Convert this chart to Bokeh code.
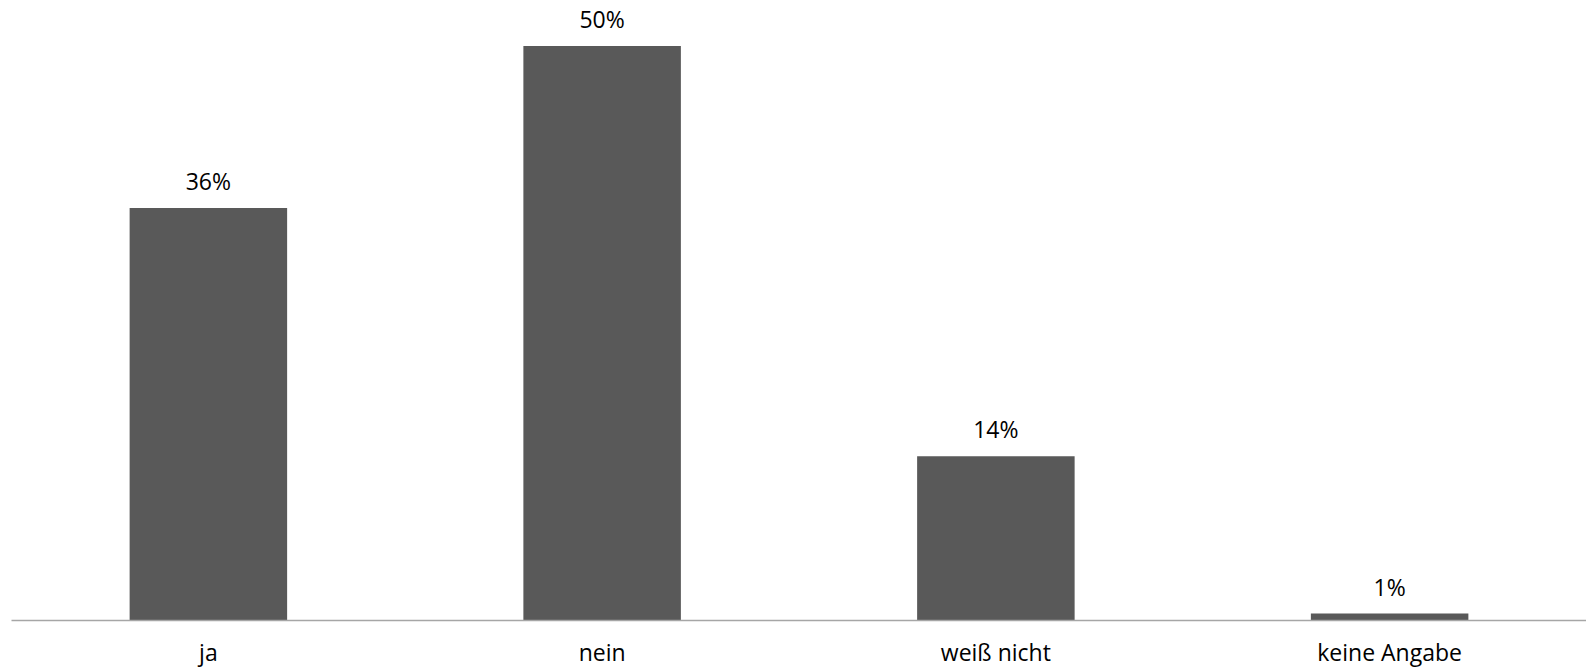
from bokeh.plotting import figure
from bokeh.models import ColumnDataSource, Range1d
from bokeh.core.properties import value
from bokeh.embed import file_html
from bokeh.resources import INLINE

categories = ["ja", "nein", "weiß nicht", "keine Angabe"]
shares = [35.9, 50.0, 14.3, 0.6]
labels = [f"{round(v):d}%" if v >= 1 else "1%" for v in shares]

FONT = "Open Sans"

source = ColumnDataSource(dict(cat=categories, val=shares, lab=labels))

p = figure(
    x_range=categories,
    y_range=Range1d(0, 53.26),
    frame_width=1575,
    frame_height=612,
    min_border_left=11,
    min_border_right=0,
    min_border_top=8,
    min_border_bottom=0,
    output_backend="svg",
    toolbar_location=None,
    outline_line_color=None,
    background_fill_color="white",
    border_fill_color="white",
)

p.vbar(x="cat", top="val", width=0.4, source=source,
       fill_color="#595959", line_color=None)

p.text(x="cat", y="val", text="lab", source=source,
       text_align="center", text_baseline="alphabetic", y_offset=-27,
       text_font=value(FONT), text_font_size="23px", text_color="#000000")

p.yaxis.visible = False
p.xgrid.visible = False
p.ygrid.visible = False

xa = p.xaxis[0]
xa.axis_line_color = "#a6a6a6"
xa.axis_line_width = 1.3
xa.major_tick_line_color = None
xa.minor_tick_line_color = None
xa.major_tick_out = 0
xa.major_tick_in = 0
xa.major_label_standoff = 15
xa.major_label_text_font = FONT
xa.major_label_text_font_size = "23px"
xa.major_label_text_color = "#000000"

p.x_range.range_padding = 0

open("out.html", "w").write(file_html(p, INLINE))
